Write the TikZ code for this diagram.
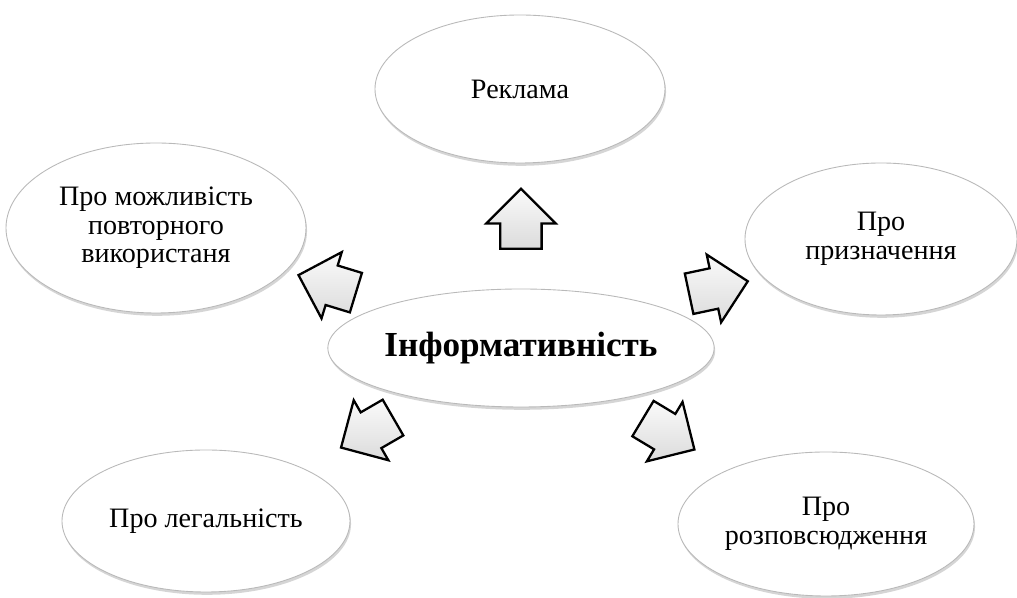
\documentclass[tikz,border=0pt]{standalone}
\usepackage{fontspec}
\setmainfont{Liberation Serif}
\usetikzlibrary{shapes.geometric,shapes.arrows,shadows,positioning}

\begin{document}
\begin{tikzpicture}[
  bubble/.style={ellipse,draw=gray!55,line width=0.5pt,fill=white,
    drop shadow={shadow xshift=0.6pt,shadow yshift=-1.6pt,fill=gray!65},
    align=center,inner sep=0pt,font=\fontsize{16}{16.2}\selectfont},
  hub/.style={bubble,font=\fontsize{20}{22}\selectfont\bfseries},
  blockarrow/.style={single arrow,draw=black,line width=1.3pt,
    top color=gray!4,bottom color=gray!28,minimum height=1.2cm,
    single arrow head extend=0.28cm,inner xsep=0pt,inner ysep=0.39cm,anchor=tail}
]
\useasboundingbox (-10.42,-5.0) rectangle (9.92,6.96);
% centre and the five surrounding ellipses
\node[hub,minimum width=7.48cm,minimum height=2.36cm] (info) at (0,0) {Інформативність};
\node[bubble,minimum width=5.8cm,minimum height=2.96cm] (ad) at ([shift={(-0.02,5.18)}]info.center) {Реклама};
\node[bubble,minimum width=6.0cm,minimum height=3.4cm] (reuse) at ([shift={(-7.30,2.40)}]info.center) {Про можливість\\повторного\\використаня};
\node[bubble,minimum width=5.44cm,minimum height=3.04cm] (purpose) at ([shift={(7.20,2.18)}]info.center) {Про\\призначення};
\node[bubble,minimum width=5.76cm,minimum height=2.84cm] (legal) at ([shift={(-6.30,-3.46)}]info.center) {Про легальність};
\node[bubble,minimum width=5.92cm,minimum height=2.88cm] (spread) at ([shift={(6.10,-3.52)}]info.center) {Про\\розповсюдження};
% block arrows pointing outwards, placed by their tails
\node[blockarrow,rotate=90] (to-ad) at ([shift={(0,1.96)}]info.center) {};
\node[blockarrow,rotate=163] (to-reuse) at ([shift={(-3.28,1.10)}]info.center) {};
\node[blockarrow,rotate=12] (to-purpose) at ([shift={(3.34,1.08)}]info.center) {};
\node[blockarrow,rotate=210] (to-legal) at ([shift={(-2.54,-1.38)}]info.center) {};
\node[blockarrow,rotate=-31] (to-spread) at ([shift={(2.42,-1.40)}]info.center) {};
\end{tikzpicture}
\end{document}
